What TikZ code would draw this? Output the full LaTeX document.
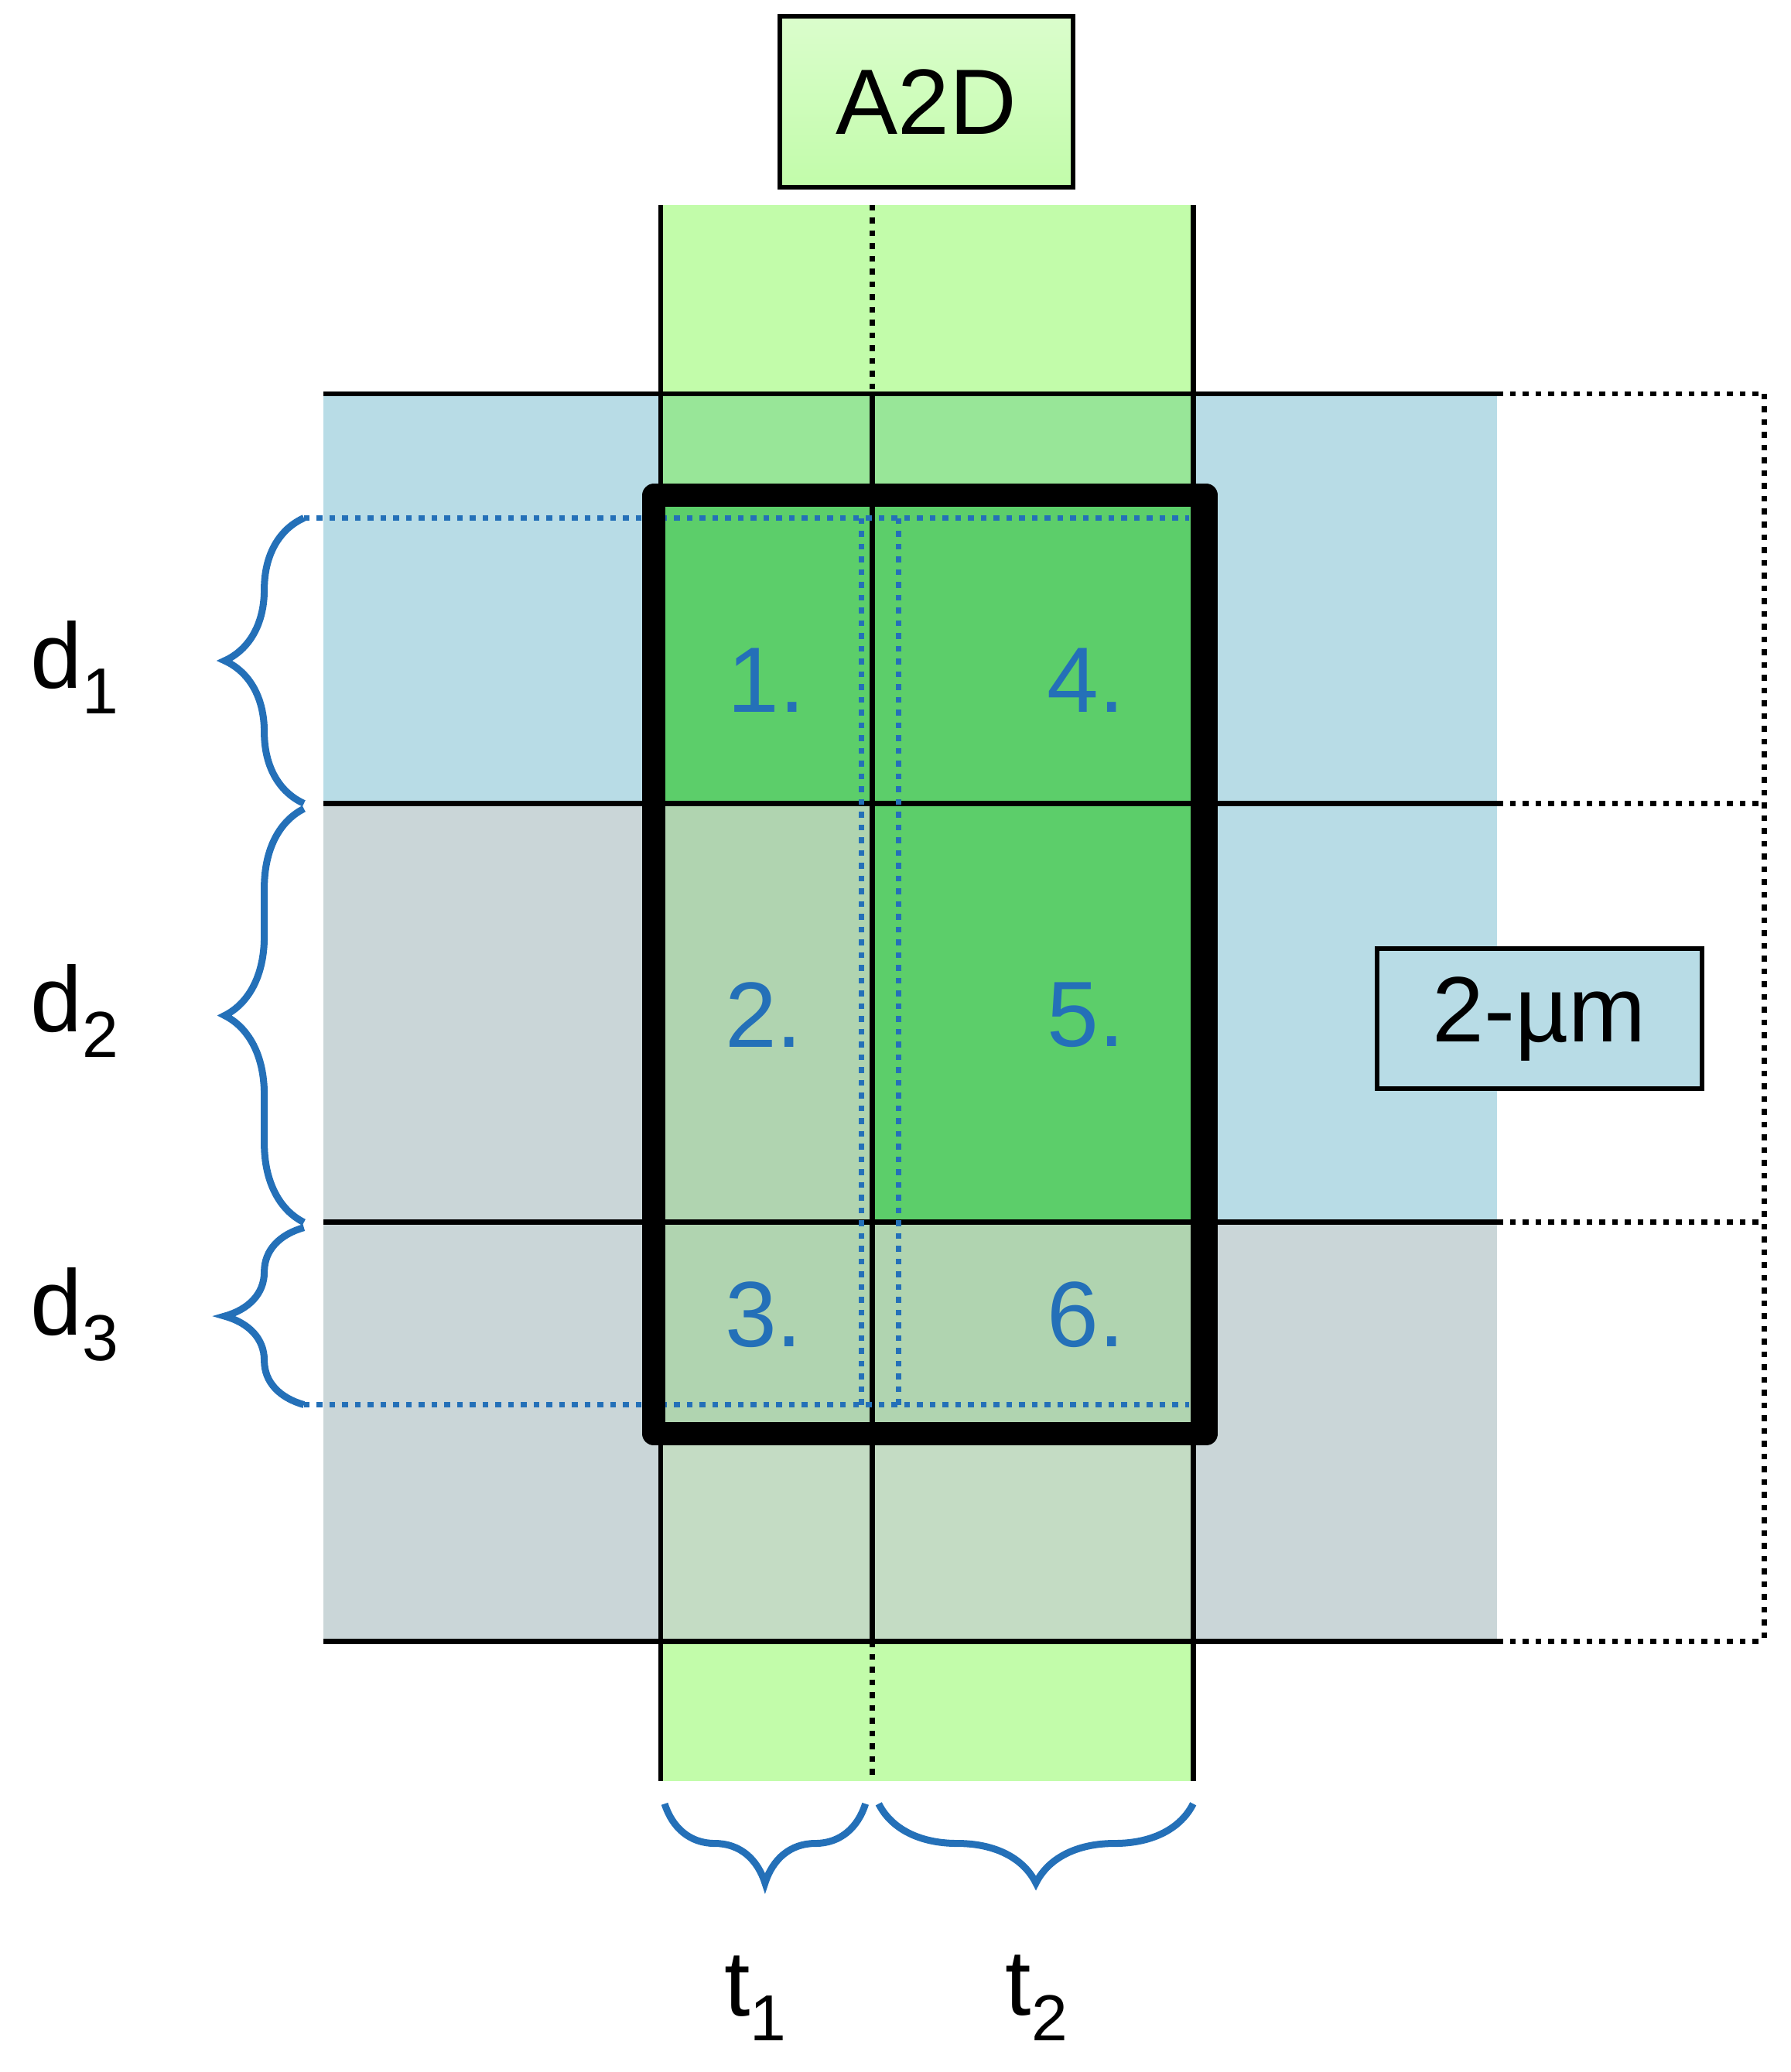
\documentclass[tikz,border=0pt]{standalone}
\usepackage{fontspec}
\setmainfont{Liberation Sans}
\usetikzlibrary{decorations.pathreplacing}
\definecolor{stripg}{HTML}{C2FCAA}
\definecolor{midg}{HTML}{98E698}
\definecolor{darkg}{HTML}{5CCE6A}
\definecolor{greyg}{HTML}{B0D4B0}
\definecolor{lowg}{HTML}{C4DCC4}
\definecolor{bandb}{HTML}{B8DCE6}
\definecolor{bandg}{HTML}{CAD6D8}
\definecolor{numb}{HTML}{2470B8}
\tikzset{
 thin line/.style={line width=2.3pt},
 dotline/.style={line width=2.3pt, dash pattern=on 2.5pt off 3pt},
 bluedot/.style={numb, line width=2.3pt, dash pattern=on 2.5pt off 3pt},
 brc/.style={numb, line width=3pt, decorate, decoration={brace, amplitude=1.2cm}},
 lbl/.style={font=\fontsize{40}{48}\selectfont},
 num/.style={font=\fontsize{40}{48}\selectfont, text=numb},
 box/.style={draw, line width=2pt, inner sep=0pt},
}
\begin{document}
\begin{tikzpicture}[x=0.02cm,y=-0.02cm]
\useasboundingbox (0,0) rectangle (1355,1568);
% bands
\fill[bandb] (245,298) rectangle (500,608);
\fill[bandg] (245,608) rectangle (500,1242);
\fill[bandb] (903,298) rectangle (1133,925);
\fill[bandg] (903,925) rectangle (1133,1242);
% strip
\fill[stripg] (500,155) rectangle (903,1348);
\fill[midg] (500,298) rectangle (903,375);
\fill[darkg] (500,375) rectangle (903,608);
\fill[greyg] (500,608) rectangle (660,925);
\fill[darkg] (660,608) rectangle (903,925);
\fill[greyg] (500,925) rectangle (903,1085);
\fill[lowg] (500,1085) rectangle (903,1242);
% vertical lines
\draw[thin line] (500,155) -- (500,1348);
\draw[thin line] (903,155) -- (903,1348);
\draw[dotline] (660,155) -- (660,298);
\draw[thin line] (660,298) -- (660,1242);
\draw[dotline] (660,1242) -- (660,1348);
% horizontal lines
\foreach \y in {298,608,925,1242}{
 \draw[thin line] (245,\y) -- (1133,\y);
 \draw[dotline] (1133,\y) -- (1335,\y);
}
\draw[dotline] (1335,298) -- (1335,1242);
% blue dotted
\draw[bluedot] (230,392) -- (900,392);
\draw[bluedot] (230,1063) -- (900,1063);
\draw[bluedot] (652,392) -- (652,1063);
\draw[bluedot] (680,392) -- (680,1063);
% thick box
\draw[line width=10pt, line join=round] (495,375) rectangle (913,1085);
% numbers
\node[num] (n1) at (580,515) {1.};
\node[num] (n4) at (822,515) {4.};
\node[num] (n2) at (578,768) {2.};
\node[num] (n5) at (822,768) {5.};
\node[num] (n3) at (578,995) {3.};
\node[num] (n6) at (822,995) {6.};
% A2D
\node[box, top color=stripg!60!white, bottom color=stripg, minimum width=4.44cm, minimum height=2.58cm, lbl] (a2d) at (701,77) {A2D};
\node[box, fill=bandb, minimum width=4.92cm, minimum height=2.12cm, lbl] (um) at (1165,771) {2-µm};
% braces
\draw[brc] (230,608) -- (230,392);
\draw[brc] (230,925) -- (230,612);
\draw[brc] (230,1063) -- (230,929);
\draw[brc] (655,1365) -- (503,1365);
\draw[brc] (903,1365) -- (665,1365);
% labels
\node[lbl] (d1) at (57,505) {d\textsubscript{1}};
\node[lbl] (d2) at (57,765) {d\textsubscript{2}};
\node[lbl] (d3) at (57,995) {d\textsubscript{3}};
\node[lbl] (t1) at (572,1512) {t\textsubscript{1}};
\node[lbl] (t2) at (785,1512) {t\textsubscript{2}};
\end{tikzpicture}
\end{document}
